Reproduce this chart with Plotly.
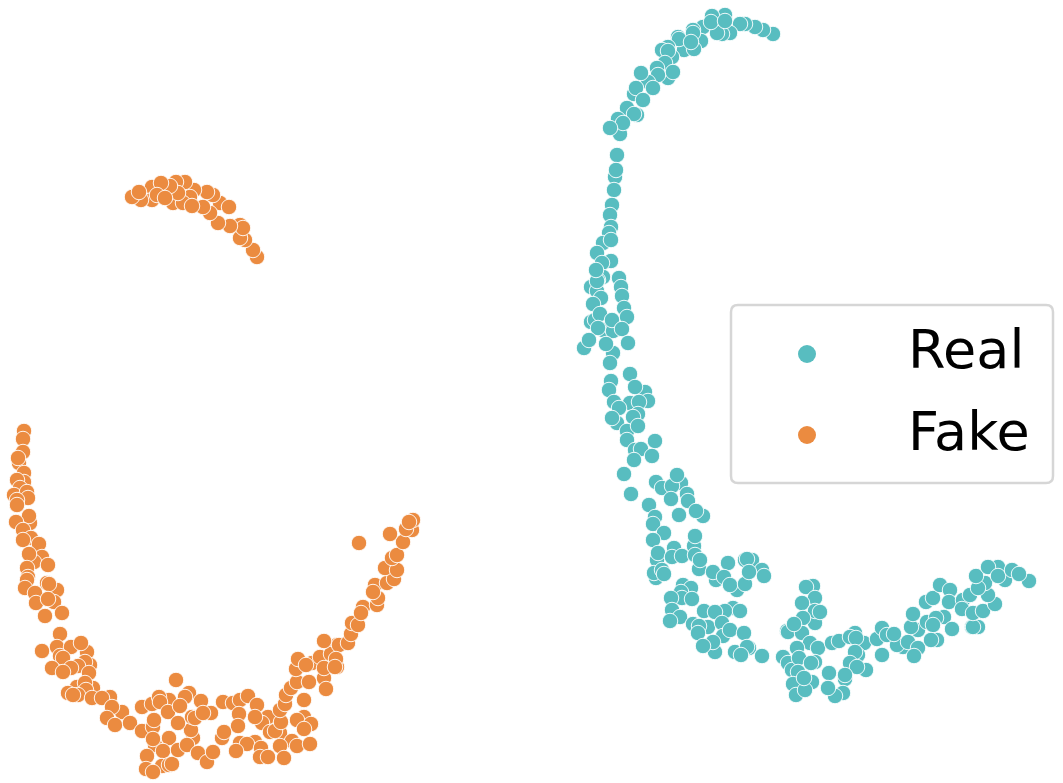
import plotly.graph_objects as go

real_points = [
(773,34),(763,30),(755,27),(745,24),(740,24),(730,33),(725,15),(712,16),(703,27),(693,30),(701,41),(693,33),
(722,34),(717,33),(711,22),(725,21),(678,37),(684,50),(694,49),(679,39),(691,42),(668,47),(662,50),(672,57),(668,51),
(665,63),(657,68),(668,78),(658,75),(673,72),(648,82),(653,88),(641,73),(634,94),(636,88),(643,100),(627,108),
(637,115),(634,114),(618,119),(620,134),(623,123),(610,128),(617,155),(615,177),(616,170),(614,190),(612,205),
(610,215),(611,227),(609,233),(603,243),(611,240),(597,253),(611,261),(602,263),(603,277),(591,287),(597,291),
(598,280),(597,281),(596,270),(601,298),(619,278),(621,287),(622,296),(624,308),(627,317),(593,304),(591,322),
(595,320),(603,330),(613,331),(600,314),(598,328),(612,320),(622,329),(584,348),(589,340),(613,353),(606,344),
(628,343),(610,363),(630,374),(611,381),(609,390),(645,392),(648,401),(635,387),(630,403),(614,402),(619,408),
(639,402),(617,423),(612,418),(638,414),(633,417),(627,431),(638,426),(627,440),(655,441),(635,450),(641,449),
(652,456),(634,460),(624,474),(656,482),(662,488),(681,483),(672,486),(677,475),(631,494),(687,494),(688,501),
(671,499),(679,515),(703,516),(696,511),(649,505),(655,517),(653,524),(664,533),(653,540),(694,546),(695,536),
(674,548),(657,560),(658,553),(672,557),(682,556),(695,555),(699,569),(700,560),(728,563),(716,580),(713,572),
(724,577),(737,590),(730,585),(745,584),(745,560),(752,560),(747,559),(762,570),(749,572),(764,576),(656,578),
(654,573),(662,570),(664,574),(683,585),(691,588),(681,592),(682,598),(671,598),(692,599),(672,610),(680,617),
(670,621),(733,608),(704,611),(725,611),(715,612),(740,611),(693,624),(708,627),(699,626),(698,633),(722,623),
(723,636),(730,630),(744,633),(715,652),(713,642),(703,646),(735,652),(749,648),(747,647),(741,655),(762,656),
(813,586),(806,587),(815,598),(802,603),(815,623),(815,611),(820,612),(803,618),(787,631),(788,632),(802,633),
(794,624),(810,643),(818,648),(797,648),(783,657),(815,662),(788,663),(792,670),(799,658),(811,663),(798,672),
(812,682),(793,684),(796,695),(805,690),(804,678),(832,643),(839,641),(855,633),(850,637),(864,643),(856,638),
(858,655),(855,652),(850,663),(866,670),(857,667),(829,673),(845,679),(845,675),(843,693),(835,696),(828,688),
(877,639),(882,628),(882,655),(887,635),(903,647),(897,645),(894,634),(918,630),(908,642),(918,648),(911,627),
(913,614),(914,656),(944,617),(927,622),(936,618),(937,640),(933,625),(931,640),(952,629),(926,602),(933,598),
(940,585),(950,590),(949,602),(963,600),(970,595),(962,609),(978,627),(972,627),(973,627),(973,613),(983,611),
(995,604),(988,595),(985,583),(978,588),(976,576),(998,567),(1005,580),(988,567),(998,576),(1012,570),(1029,581),
(1019,574),
]

fake_points = [
(257,257),(253,250),(245,240),(240,238),(240,225),(243,228),(230,226),(218,223),(220,203),(229,207),(210,213),
(203,207),(213,195),(207,192),(194,190),(185,182),(176,182),(190,197),(173,203),(183,203),(192,206),(178,193),
(170,186),(152,187),(161,183),(152,200),(141,200),(157,195),(165,198),(132,197),(139,192),
(24,431),(23,439),(23,452),(19,463),(18,458),(24,473),(24,482),(17,480),(20,488),(14,495),(27,492),(28,498),(17,500),
(17,505),(30,523),(29,516),(16,522),(23,530),(31,538),(23,540),(39,544),(42,557),(34,562),(29,554),(48,565),(27,568),
(28,577),(27,580),(25,588),(35,593),(47,583),(57,590),(49,584),(36,603),(54,602),(48,599),(45,616),(62,613),(60,634),
(42,651),(57,647),(87,652),(71,647),(81,643),(60,656),(63,658),(90,665),(85,662),(78,666),(71,668),(52,668),(63,672),
(89,673),(93,688),(77,687),(85,683),(86,690),(68,693),(78,695),(73,695),(92,698),(110,697),(102,698),(122,712),(112,707),
(107,718),(115,725),(130,723),(142,707),(142,731),(152,704),(169,700),(159,697),(160,702),(168,712),(153,727),(154,720),
(176,680),(155,745),(153,739),(169,738),(163,751),(147,756),(146,769),(162,766),(153,772),(169,765),(172,764),(178,750),
(193,738),(187,745),(191,730),(178,723),(189,693),(185,697),(180,706),(201,701),(192,717),(211,713),(195,718),(203,713),
(198,753),(207,762),(213,752),(223,702),(233,703),(240,700),(248,696),(239,714),(238,726),(222,738),(224,732),(240,743),
(255,742),(247,744),(236,751),(261,748),(260,757),(268,757),(257,705),(268,717),(262,723),(255,717),(270,732),(280,733),
(275,731),(281,722),(280,710),(285,704),(286,695),(291,688),(297,682),(296,669),(298,659),(312,663),(306,665),(304,700),
(309,682),(304,717),(297,720),(311,724),(304,729),(292,741),(297,746),(310,744),(280,746),(284,758),(337,667),(337,645),
(320,657),(324,678),(326,689),(324,668),(331,654),(324,641),(339,645),(348,643),(336,659),(335,667),(351,634),(352,623),
(358,625),(363,607),(361,613),(377,605),(378,598),(375,585),(373,592),(387,583),(394,579),(385,568),(397,570),(392,558),
(397,555),(403,542),(359,543),(390,534),(412,530),(406,529),(413,520),(409,522),
]

colors = {"Real": "#58BDC0", "Fake": "#EB8B40"}
labels = ["Real", "Fake"]
series = {"Real": real_points, "Fake": fake_points}

fig = go.Figure()
for name in labels:
    xs, ys = zip(*series[name])
    fig.add_trace(go.Scatter(
        x=xs, y=ys, mode="markers", name=name, showlegend=False,
        marker=dict(size=15.5, color=colors[name], line=dict(color="white", width=0.9)),
    ))

box = "M 738,305 L 1046,305 Q 1053,305 1053,312 L 1053,476 Q 1053,483 1046,483 L 738,483 Q 731,483 731,476 L 731,312 Q 731,305 738,305 Z"
shapes = [dict(type="path", path=box, xref="x", yref="y", layer="above",
               line=dict(color="#D6D6D6", width=2.5), fillcolor="rgba(255,255,255,0.8)")]
annotations = []
for name, key_y, text_y in zip(labels, [354, 435], [349, 431]):
    shapes.append(dict(type="circle", xref="x", yref="y", layer="above",
                       x0=798, x1=816, y0=key_y - 9, y1=key_y + 9,
                       fillcolor=colors[name], line=dict(width=0)))
    annotations.append(dict(text=name, x=906, y=text_y, xref="x", yref="y",
                            xanchor="left", yanchor="middle", showarrow=False,
                            font=dict(family="DejaVu Sans", size=54, color="black")))

fig.update_layout(
    width=1063, height=783,
    margin=dict(l=0, r=0, t=0, b=0),
    paper_bgcolor="white", plot_bgcolor="white",
    showlegend=False,
    xaxis=dict(range=[0, 1063], visible=False, fixedrange=True),
    yaxis=dict(range=[783, 0], visible=False, fixedrange=True),
    shapes=shapes, annotations=annotations,
)
fig.write_html("out.html", post_script="document.body.style.margin='0';", config={"displayModeBar": False})
